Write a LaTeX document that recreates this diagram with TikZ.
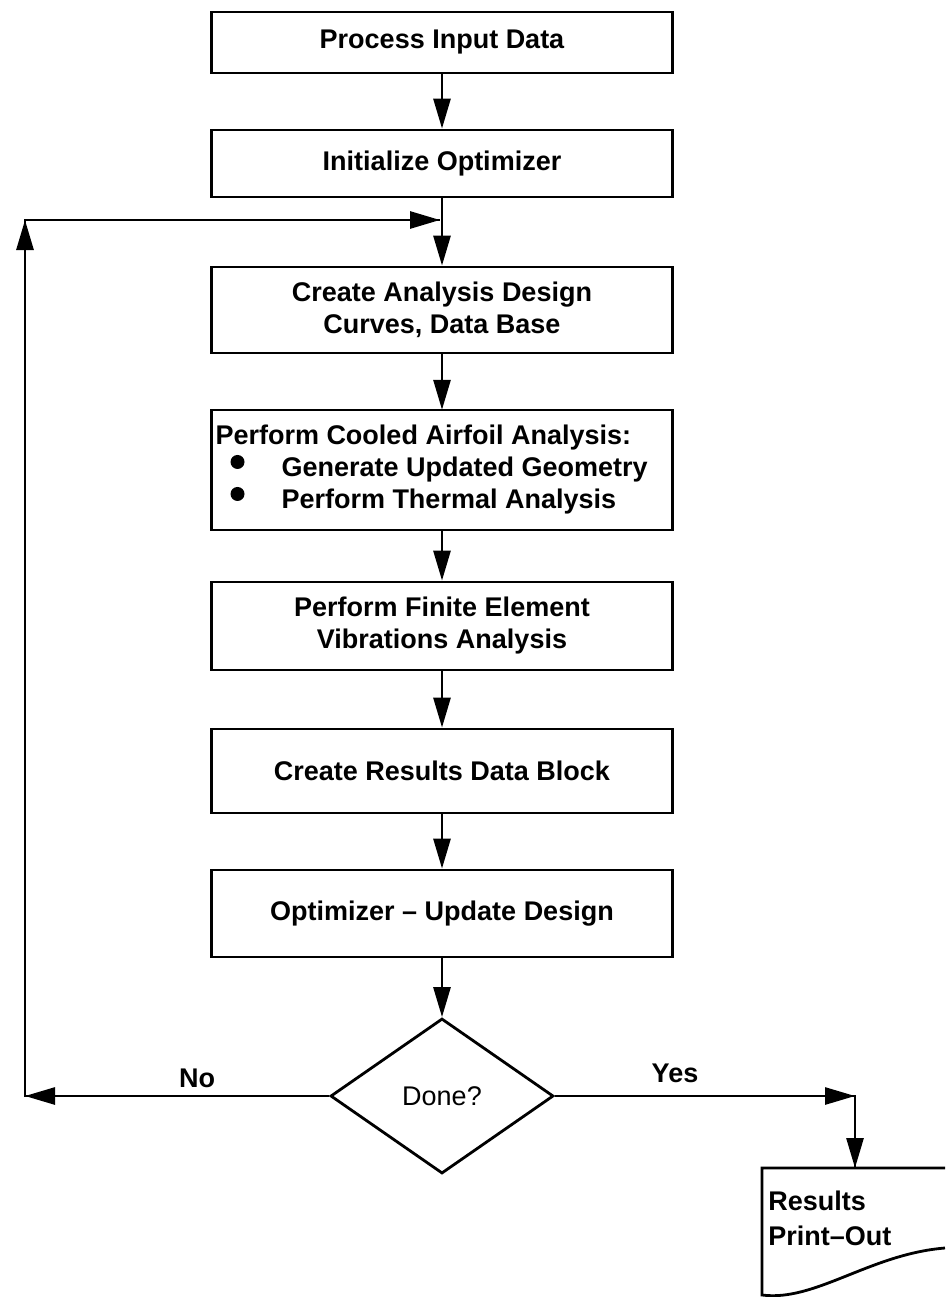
\documentclass[tikz,border=0pt]{standalone}
\usepackage{fontspec}
\setmainfont{Liberation Sans}
\usetikzlibrary{shapes.geometric,arrows.meta}
\newcommand{\bulitem}{\makebox[66pt][l]{\hspace{15pt}\raisebox{8pt}{\tikz\fill (0pt,0pt) circle (7pt);}}}
\begin{document}
\begin{tikzpicture}[x=1pt,y=-1pt, line width=2.8pt,
  txt/.style={font=\bfseries\fontsize{27}{32}\selectfont},
  box/.style={draw, txt, minimum width=461pt, inner sep=0pt, align=center},
  arr/.style={-{Triangle[length=30pt,width=17pt]}},
  lbl/.style={txt, inner sep=0pt}]
\useasboundingbox (0,0) rectangle (945,1297);
\node[box, minimum height=61pt] (b1) at (442,42.5) {Process Input Data};
\node[box, minimum height=67pt] (b2) at (442,163.5) {Initialize Optimizer};
\node[box, minimum height=86pt] (b3) at (442,310) {Create Analysis Design\\Curves, Data Base};
\node[box, minimum height=120pt, text width=453pt, inner xsep=4pt, align=flush left] (b4) at (442,470) {Perform Cooled Airfoil Analysis:\\\bulitem Generate Updated Geometry\\\bulitem Perform Thermal Analysis};
\node[box, minimum height=88pt] (b5) at (442,626) {Perform Finite Element\\Vibrations Analysis};
\node[box, minimum height=84pt] (b6) at (442,771) {Create Results Data Block};
\node[box, minimum height=87pt] (b7) at (442,913.5) {Optimizer -- Update Design};
\node[diamond, draw, minimum width=223pt, minimum height=155pt, inner sep=0pt,
      font=\fontsize{27}{32}\selectfont] (dn) at (442,1096) {Done?};
\node[lbl, anchor=base] (no) at (197,1087) {No};
\node[lbl, anchor=base] (yes) at (675,1082) {Yes};
% results print-out document
\coordinate (doctop) at (855,1168);
\draw (945,1168) -- (762,1168) -- (762,1295) .. controls (815,1302) and (870,1254) .. (945,1248);
\node[lbl, anchor=base west] (res1) at (767,1210) {Results};
\node[lbl, anchor=base west] (res2) at (767,1245) {Print--Out};
% main flow
\draw[arr] (b1) -- (b2);
\draw[arr] (b2) -- (b3);
\draw[arr] (b3) -- (b4);
\draw[arr] (b4) -- (b5);
\draw[arr] (b5) -- (b6);
\draw[arr] (b6) -- (b7);
\draw[arr] (b7) -- (dn);
% No loop
\coordinate (nocorner) at (25,1096);
\coordinate (loopcorner) at (25,220);
\coordinate (loopjoin) at (440,220);
\draw (dn.west) -- (nocorner) -- (loopcorner) -- (loopjoin);
\draw[arr] ([xshift=45pt]nocorner) -- (nocorner);
\draw[arr] ([yshift=-45pt]loopcorner) -- (loopcorner);
\draw[arr] ([xshift=-45pt]loopjoin) -- (loopjoin);
% Yes path
\coordinate (yescorner) at (855,1096);
\draw (dn.east) -- (yescorner) -- (doctop);
\draw[arr] ([xshift=-45pt]yescorner) -- (yescorner);
\draw[arr] ([yshift=45pt]doctop) -- (doctop);
\end{tikzpicture}
\end{document}
